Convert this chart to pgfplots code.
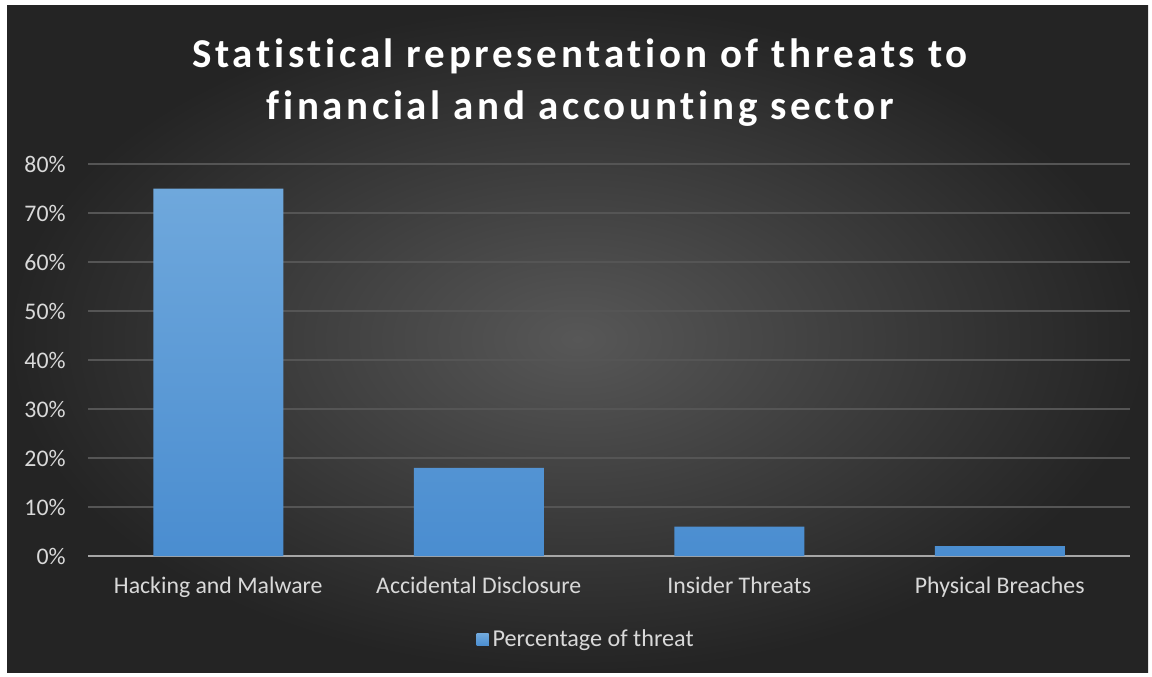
\documentclass[border=0pt]{standalone}
\usepackage{fontspec}
\setmainfont{Carlito}
\newfontfamily\titlefont[LetterSpace=9,Ligatures={NoCommon}]{Carlito}
\usepackage{pgfplots}
\pgfplotsset{compat=1.18}
\definecolor{bgdark}{HTML}{242424}
\definecolor{bglight}{HTML}{575757}
\definecolor{lighttext}{HTML}{D9D9D9}
\definecolor{axisgray}{HTML}{A6A6A6}
\definecolor{gridc}{HTML}{555555}
\definecolor{bartop}{HTML}{6FA8DC}
\definecolor{barbot}{HTML}{4A8DD0}
\definecolor{barblue}{HTML}{5B9BD5}
\begin{document}
\begin{tikzpicture}
\fill[white] (0,0) rectangle (576pt,338pt);
\shade[inner color=bglight, outer color=bgdark] (3.5pt,2pt) rectangle (574pt,335pt);
\node[white, align=center, font=\titlefont\bfseries\fontsize{20.5}{26}\selectfont] at (290pt,296.5pt)
  {Statistical representation of threats to\\financial and accounting sector};
\begin{axis}[
  at={(44pt,60pt)}, anchor=south west,
  scale only axis, width=521pt, height=196pt,
  xmin=-0.5, xmax=3.5, ymin=0, ymax=80,
  xtick={0,1,2,3},
  xticklabels={Hacking and Malware,Accidental Disclosure,Insider Threats,Physical Breaches},
  ytick={0,10,...,80},
  yticklabels={0\%,10\%,20\%,30\%,40\%,50\%,60\%,70\%,80\%},
  major tick length=0pt,
  axis x line*=bottom, axis y line*=left,
  y axis line style={draw=none},
  x axis line style={draw=axisgray, line width=1pt},
  ymajorgrids, grid style={draw=gridc, line width=0.75pt},
  ticklabel style={text=lighttext, font=\fontsize{11.9}{13}\selectfont},
  yticklabel style={anchor=east, inner sep=0pt, xshift=-11pt},
  xticklabel style={anchor=base, inner sep=0pt, yshift=-18.5pt},
  legend style={at={(0.479,-0.214)}, anchor=center, draw=none, fill=none,
    text=lighttext, font=\fontsize{12.1}{13}\selectfont},
  legend image code/.code={\fill[barblue] (0pt,-3pt) rectangle (6pt,3pt);},
  clip=false,
]
\addplot[ybar, bar width=65pt, draw=none, top color=bartop, bottom color=barbot]
  coordinates {(0,75) (1,18) (2,6) (3,2)};
\addlegendentry{Percentage of threat}
\end{axis}
\end{tikzpicture}
\end{document}
